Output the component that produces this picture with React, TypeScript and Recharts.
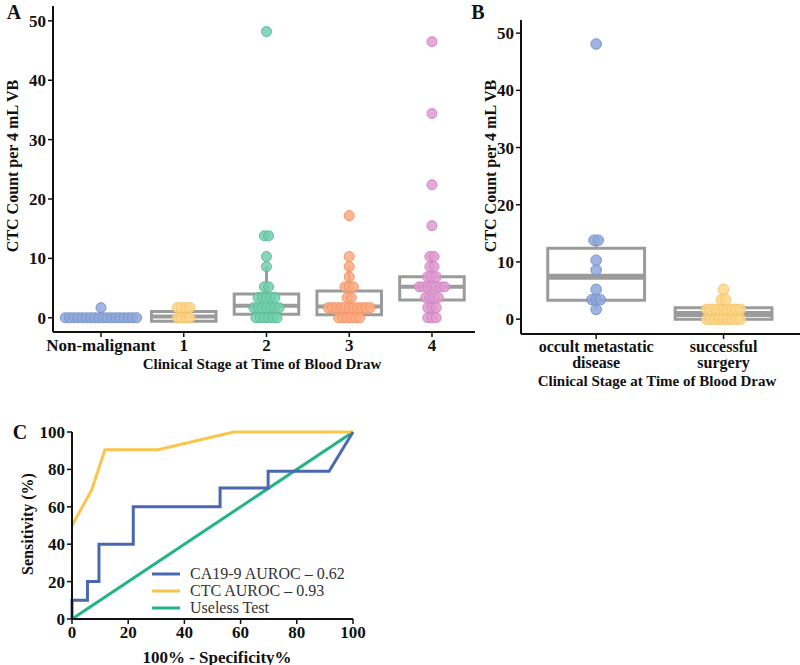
import React from "react";
import {
  ComposedChart,
  Scatter,
  XAxis,
  YAxis,
  ReferenceArea,
  ReferenceLine,
  LineChart,
  Line,
  Legend,
} from "recharts";

const SERIF = '"Liberation Serif", "Times New Roman", serif';
const INK = "#111";
const BOX = "#9b9b9b";

// ---------- panel A: CTC count by clinical stage ----------
const stageNames = ["Non-malignant", "1", "2", "3", "4"];
const nonMalignant = [0, 0, 0, 0, 0, 0, 0, 0, 0, 0, 0, 0, 0, 0, 0, 0, 0, 0, 1.7];
const stage1 = [0, 0, 0, 0, 1.7, 1.7, 1.7, 1.7];
const stage2 = [
  0, 0, 0, 0, 0, 0, 1.7, 1.7, 1.7, 1.7, 1.7, 1.7, 1.7, 3.4, 3.4, 3.4, 3.4, 3.4,
  5.2, 5.2, 8.6, 10.3, 13.8, 13.8, 48.2,
];
const stage3 = [
  0, 0, 0, 0, 0, 0, 1.7, 1.7, 1.7, 1.7, 1.7, 1.7, 1.7, 1.7, 1.7, 1.7, 1.7, 3.4,
  3.4, 5.2, 5.2, 5.2, 6.9, 8.6, 10.3, 17.2,
];
const stage4 = [
  0, 0, 0, 1.7, 1.7, 1.7, 3.4, 3.4, 3.4, 3.4, 5.2, 5.2, 5.2, 5.2, 5.2, 5.2, 5.2,
  6.9, 6.9, 6.9, 8.6, 8.6, 10.3, 10.3, 15.5, 22.4, 34.4, 46.5,
];
const stageValues = [nonMalignant, stage1, stage2, stage3, stage4];
const stageFill = ["#8fa7da", "#fdd68a", "#72cfae", "#fbaa80", "#e19ad2"];
const stageStroke = ["#7c94cc", "#f5c66a", "#5cbd9b", "#f39468", "#d287c3"];

// box stats per stage (null = no box drawn)
const stageQ1 = [null, -0.6, 0.6, 0.5, 3.0];
const stageMedian = [null, 0.2, 2.0, 1.9, 5.2];
const stageQ3 = [null, 1.05, 4.0, 4.5, 6.9];
const stageWhiskerLow = [null, null, 0, 0, 0];
const stageWhiskerHigh = [null, null, 8.6, 8.6, 10.3];
const aTicks = [0, 10, 20, 30, 40, 50];

// ---------- panel B: occult metastatic vs successful surgery ----------
const outcomeNames = [
  ["occult metastatic", "disease"],
  ["successful", "surgery"],
];
const occult = [1.7, 3.4, 3.4, 3.4, 5.2, 8.6, 10.3, 13.8, 13.8, 48.1];
const successful = [
  0, 0, 0, 0, 0, 0, 0, 0, 0, 1.7, 1.7, 1.7, 1.7, 1.7, 1.7, 1.7, 1.7, 1.7, 3.4,
  3.4, 5.2,
];
const outcomeValues = [occult, successful];
const outcomeFill = ["#8fa7da", "#fdd68a"];
const outcomeStroke = ["#7c94cc", "#f5c66a"];
const outcomeQ1 = [3.3, 0];
const outcomeMedian = [7.4, 0.9];
const outcomeQ3 = [12.4, 2.0];
const outcomeWhiskerLow = [1.7, 0];
const outcomeWhiskerHigh = [13.8, 3.4];

// ---------- panel C: ROC curves ----------
const caFpr = [0, 0, 5.5, 5.5, 9.6, 9.6, 21.8, 21.8, 52.7, 52.7, 69.8, 69.8, 91.5, 100];
const caTpr = [0, 10, 10, 20, 20, 40, 40, 60, 60, 70, 70, 79, 79, 100];
const ctcFpr = [0, 7, 11.7, 30.6, 57.5, 100];
const ctcTpr = [50, 69, 90.5, 90.5, 100, 100];
const uselessFpr = [0, 100];
const uselessTpr = [0, 100];
const rocTicks = [0, 20, 40, 60, 80, 100];

const toPoints = (xs: number[], ys: number[]) => xs.map((x, i) => ({ x, y: ys[i] }));

// simple beeswarm: identical values are spread side by side
function swarm(values: number[], center: number, step: number) {
  const counts = new Map<number, number>();
  values.forEach((v) => counts.set(v, (counts.get(v) || 0) + 1));
  const seen = new Map<number, number>();
  return values.map((v) => {
    const n = counts.get(v)!;
    const k = seen.get(v) || 0;
    seen.set(v, k + 1);
    return { x: center + (k - (n - 1) / 2) * step, y: v };
  });
}

const dotShape = (r: number, fill: string, stroke: string) => (p: any) => (
  <circle cx={p.cx} cy={p.cy} r={r} fill={fill} fillOpacity={0.85} stroke={stroke} strokeWidth={1} />
);

const tickStyle = { fontFamily: SERIF, fontWeight: "bold", fontSize: 17, fill: INK };
const axisLine = { stroke: INK, strokeWidth: 2 };
const tickLine = { stroke: INK, strokeWidth: 1.5 };

const Title = ({ x, y, size, rotate, children, weight = "bold" }: any) => (
  <div
    style={{
      position: "absolute",
      left: x,
      top: y,
      transform: `translate(-50%, -50%)${rotate ? " rotate(-90deg)" : ""}`,
      whiteSpace: "nowrap",
      fontSize: size,
      fontWeight: weight,
      lineHeight: 1,
    }}
  >
    {children}
  </div>
);

const BoxPlot = (i: number, q1: any[], med: any[], q3: any[], wl: any[], wh: any[], half: number, medWidth: number) => {
  if (q1[i] === null) return null;
  const out = [];
  if (wl[i] !== null)
    out.push(
      <ReferenceLine key={`wl${i}`} segment={[{ x: i, y: wl[i] }, { x: i, y: q1[i] }]} stroke={BOX} strokeWidth={3} />
    );
  if (wh[i] !== null)
    out.push(
      <ReferenceLine key={`wh${i}`} segment={[{ x: i, y: q3[i] }, { x: i, y: wh[i] }]} stroke={BOX} strokeWidth={3} />
    );
  out.push(
    <ReferenceArea
      key={`b${i}`}
      x1={i - half}
      x2={i + half}
      y1={q1[i]}
      y2={q3[i]}
      fill="#fff"
      fillOpacity={0}
      stroke={BOX}
      strokeWidth={3}
      strokeOpacity={1}
    />
  );
  out.push(
    <ReferenceLine
      key={`m${i}`}
      segment={[{ x: i - half, y: med[i] }, { x: i + half, y: med[i] }]}
      stroke={BOX}
      strokeWidth={medWidth}
    />
  );
  return out;
};

const OutcomeTick = (props: any) => {
  const { x, y, payload } = props;
  const lines = outcomeNames[payload.value] || [];
  return (
    <text x={x} y={y} textAnchor="middle" fontFamily={SERIF} fontWeight="bold" fontSize={16} fill={INK}>
      {lines.map((l: string, k: number) => (
        <tspan key={k} x={x} dy={k === 0 ? "0.71em" : "1.0em"}>
          {l}
        </tspan>
      ))}
    </text>
  );
};

const RocLegend = (props: any) => (
  <div style={{ fontFamily: SERIF, fontSize: 16, color: "#333" }}>
    {(props.payload || []).map((e: any) => (
      <div key={e.value} style={{ display: "flex", alignItems: "center", height: 17 }}>
        <svg width={38} height={8}>
          <line x1={0} y1={4} x2={28} y2={4} stroke={e.color} strokeWidth={3} />
        </svg>
        <span style={{ whiteSpace: "nowrap" }}>{e.value}</span>
      </div>
    ))}
  </div>
);

export default function App() {
  const aStep = 4.2 / 82.75;
  const bStep = 4.2 / 127.4;
  return (
    <div
      style={{
        position: "absolute",
        left: 0,
        top: 0,
        width: 800,
        height: 665,
        background: "#fff",
        fontFamily: SERIF,
        color: INK,
        overflow: "hidden",
      }}
    >
      {/* panel A */}
      <div style={{ position: "absolute", left: 0, top: 0 }}>
        <ComposedChart width={480} height={380} margin={{ top: 6, right: 5, bottom: 18, left: 8 }}>
          <XAxis
            type="number"
            dataKey="x"
            domain={[-0.58, 4.52]}
            ticks={[0, 1, 2, 3, 4]}
            interval={0}
            tickFormatter={(v: number) => stageNames[v]}
            tick={tickStyle}
            axisLine={axisLine}
            tickLine={tickLine}
            tickSize={5}
            height={30}
          />
          <YAxis
            type="number"
            dataKey="y"
            domain={[-2.4, 52.5]}
            ticks={aTicks}
            tick={tickStyle}
            axisLine={axisLine}
            tickLine={tickLine}
            tickSize={5}
            width={45}
          />
          {stageNames.map((_, i) => BoxPlot(i, stageQ1, stageMedian, stageQ3, stageWhiskerLow, stageWhiskerHigh, 0.39, 4))}
          {stageValues.map((vals, i) => (
            <Scatter
              key={stageNames[i]}
              data={swarm(vals, i, aStep)}
              shape={dotShape(5, stageFill[i], stageStroke[i])}
              isAnimationActive={false}
            />
          ))}
        </ComposedChart>
      </div>

      {/* panel B */}
      <div style={{ position: "absolute", left: 470, top: 0 }}>
        <ComposedChart width={330} height={390} margin={{ top: 20, right: 0, bottom: 26, left: 6 }}>
          <XAxis
            type="number"
            dataKey="x"
            domain={[-0.59, 1.6]}
            ticks={[0, 1]}
            interval={0}
            tick={<OutcomeTick />}
            axisLine={axisLine}
            tickLine={tickLine}
            tickSize={5}
            height={30}
          />
          <YAxis
            type="number"
            dataKey="y"
            domain={[-2.6, 52.3]}
            ticks={aTicks}
            tick={tickStyle}
            axisLine={axisLine}
            tickLine={tickLine}
            tickSize={5}
            width={45}
          />
          {outcomeValues.map((_, i) =>
            BoxPlot(i, outcomeQ1, outcomeMedian, outcomeQ3, outcomeWhiskerLow, outcomeWhiskerHigh, 0.38, 6)
          )}
          {outcomeValues.map((vals, i) => (
            <Scatter
              key={i}
              data={swarm(vals, i, bStep)}
              shape={dotShape(5.3, outcomeFill[i], outcomeStroke[i])}
              isAnimationActive={false}
            />
          ))}
        </ComposedChart>
      </div>

      {/* panel C */}
      <div style={{ position: "absolute", left: 0, top: 400 }}>
        <LineChart width={380} height={265} margin={{ top: 32, right: 27, bottom: 16, left: 27 }}>
          <XAxis
            type="number"
            dataKey="x"
            domain={[0, 100]}
            ticks={rocTicks}
            interval={0}
            tick={tickStyle}
            axisLine={axisLine}
            tickLine={tickLine}
            tickSize={5}
            height={30}
          />
          <YAxis
            type="number"
            dataKey="y"
            domain={[0, 100]}
            ticks={rocTicks}
            interval={0}
            tick={tickStyle}
            axisLine={axisLine}
            tickLine={tickLine}
            tickSize={5}
            width={45}
          />
          <Line
            data={toPoints(uselessFpr, uselessTpr)}
            dataKey="y"
            name="Useless Test"
            type="linear"
            stroke="#20b487"
            strokeWidth={3}
            dot={false}
            isAnimationActive={false}
            legendType="plainline"
          />
          <Line
            data={toPoints(ctcFpr, ctcTpr)}
            dataKey="y"
            name="CTC AUROC – 0.93"
            type="linear"
            stroke="#fbc54c"
            strokeWidth={3}
            dot={false}
            isAnimationActive={false}
            legendType="plainline"
          />
          <Line
            data={toPoints(caFpr, caTpr)}
            dataKey="y"
            name="CA19-9 AUROC – 0.62"
            type="linear"
            stroke="#4a68b1"
            strokeWidth={3}
            dot={false}
            isAnimationActive={false}
            legendType="plainline"
          />
          <Legend
            layout="vertical"
            align="center"
            verticalAlign="middle"
            itemSorter={(e: any) => -["Useless Test", "CTC AUROC – 0.93", "CA19-9 AUROC – 0.62"].indexOf(e.value)}
            content={<RocLegend />}
            wrapperStyle={{ left: 152, top: 165, width: 200, height: 60 }}
          />
        </LineChart>
      </div>

      {/* panel letters and axis titles */}
      <Title x={14} y={12} size={20}>A</Title>
      <Title x={478} y={12} size={20}>B</Title>
      <Title x={20} y={432} size={20}>C</Title>

      <Title x={13} y={166} size={16} rotate>CTC Count per 4 mL VB</Title>
      <Title x={262} y={364} size={15}>Clinical Stage at Time of Blood Draw</Title>

      <Title x={491} y={166} size={16} rotate>CTC Count per 4 mL VB</Title>
      <Title x={657} y={381} size={15}>Clinical Stage at Time of Blood Draw</Title>

      <Title x={28} y={524} size={16} rotate>Sensitivity (%)</Title>
      <Title x={217} y={657} size={17}>100% - Specificity%</Title>
    </div>
  );
}
